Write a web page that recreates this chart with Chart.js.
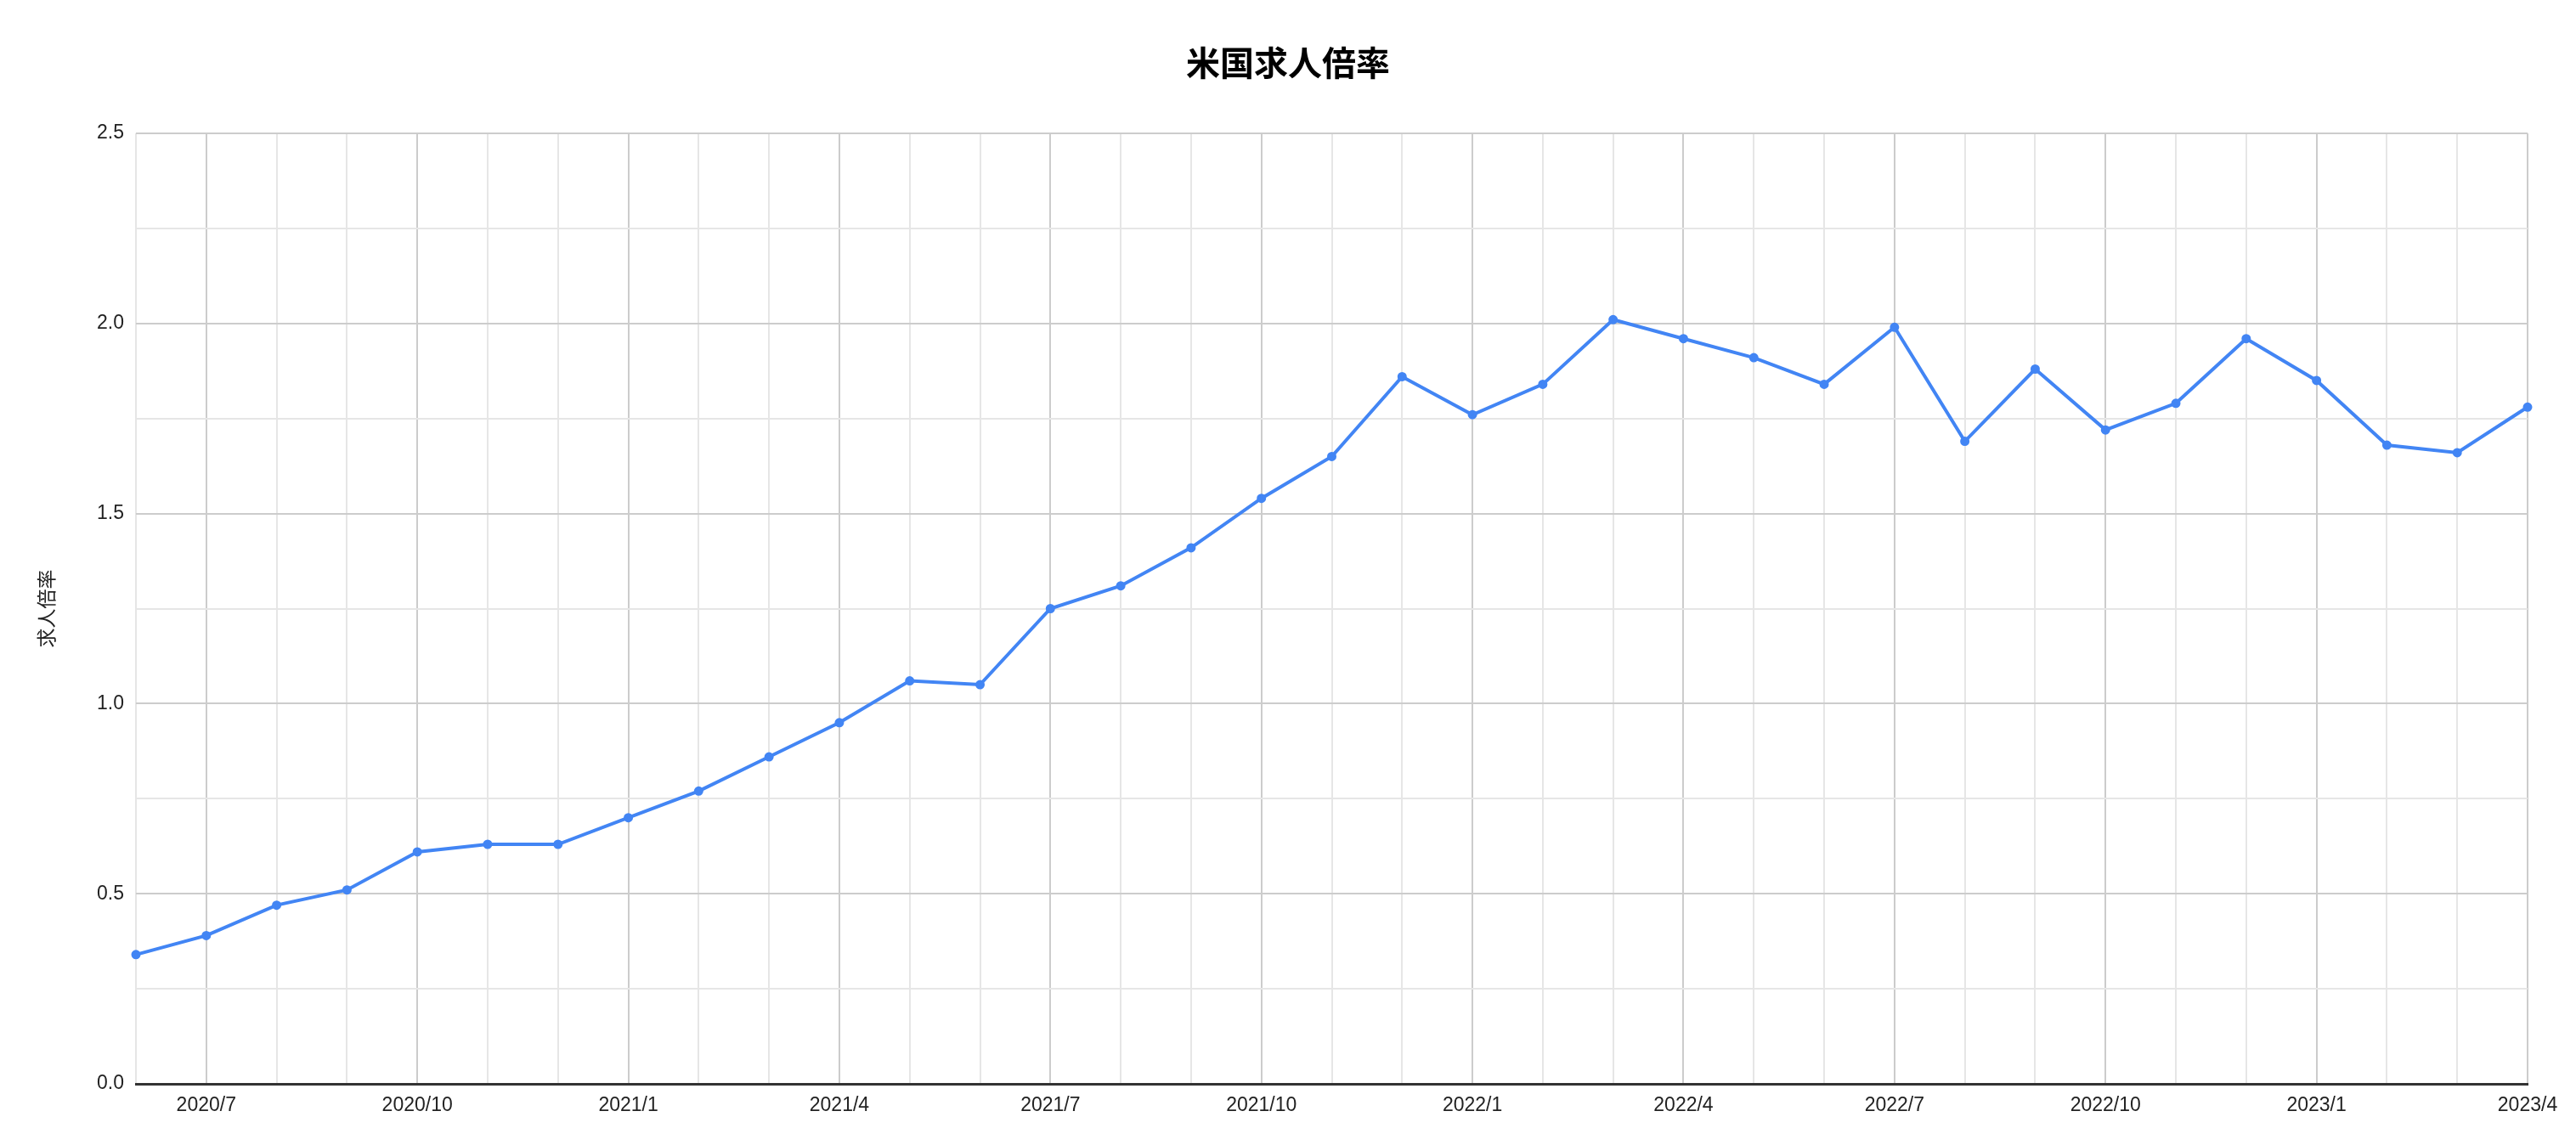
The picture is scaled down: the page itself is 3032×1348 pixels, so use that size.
<!DOCTYPE html>
<html>
<head>
<meta charset="utf-8">
<style>
  html, body { margin: 0; padding: 0; background: #fff; }
  #wrap { width: 3032px; height: 1348px; }
</style>
</head>
<body>
<div id="wrap"><canvas id="jobsChart"></canvas></div>

<script src="https://cdn.jsdelivr.net/npm/chart.js"></script>
<script>
  // 月 (2020/6 - 2023/4)
  const months = [
    '2020/6', '2020/7', '2020/8', '2020/9', '2020/10', '2020/11', '2020/12',
    '2021/1', '2021/2', '2021/3', '2021/4', '2021/5', '2021/6', '2021/7', '2021/8', '2021/9', '2021/10', '2021/11', '2021/12',
    '2022/1', '2022/2', '2022/3', '2022/4', '2022/5', '2022/6', '2022/7', '2022/8', '2022/9', '2022/10', '2022/11', '2022/12',
    '2023/1', '2023/2', '2023/3', '2023/4'
  ];

  // 求人倍率
  const ratio = [
    0.34, 0.39, 0.47, 0.51, 0.61, 0.63, 0.63,
    0.70, 0.77, 0.86, 0.95, 1.06, 1.05, 1.25, 1.31, 1.41, 1.54, 1.65, 1.86,
    1.76, 1.84, 2.01, 1.96, 1.91, 1.84, 1.99, 1.69, 1.88, 1.72, 1.79, 1.96,
    1.85, 1.68, 1.66, 1.78
  ];

  // x軸に表示するラベル
  const shownLabels = ['2020/7', '2020/10', '2021/1', '2021/4', '2021/7', '2021/10', '2022/1', '2022/4', '2022/7', '2022/10', '2023/1', '2023/4'];

  const tickFont = { family: '"Liberation Sans", Arial, sans-serif', size: 23 };

  const ctx = document.getElementById('jobsChart').getContext('2d');
  new Chart(ctx, {
    type: 'line',
    data: {
      labels: months,
      datasets: [{
        label: '求人倍率',
        data: ratio,
        borderColor: '#4285f4',
        backgroundColor: '#4285f4',
        borderWidth: 4,
        pointRadius: 3.5,
        pointHoverRadius: 5,
        tension: 0,
        fill: false
      }]
    },
    options: {
      responsive: true,
      maintainAspectRatio: false,
      animation: false,
      // same padding on both sides so the title sits in the middle of the page
      layout: { padding: { left: 57, right: 57, top: 0, bottom: 0 } },
      plugins: {
        legend: { display: false },
        title: {
          display: true,
          text: '米国求人倍率',
          color: '#000',
          font: { family: '"Noto Sans CJK JP", "Liberation Sans", sans-serif', size: 40, weight: 'bold' },
          padding: { top: 50, bottom: 59 }
        },
        tooltip: { enabled: true }
      },
      scales: {
        x: {
          afterFit: s => { s.height = 72; },
          grid: {
            color: c => (c.index % 3 === 1 ? '#cccccc' : '#e6e6e6'),
            lineWidth: 2,
            drawTicks: false
          },
          border: { display: true, color: '#333333', width: 3 },
          ticks: {
            autoSkip: false,
            maxRotation: 0,
            padding: 12,
            color: '#222',
            font: tickFont,
            callback: function (v, i) {
              const lab = months[i];
              return shownLabels.includes(lab) ? lab : '';
            }
          }
        },
        y: {
          min: 0,
          max: 2.5,
          afterFit: s => { s.width = 103; },
          grid: {
            color: c => (Math.round(c.tick.value * 100) % 50 === 0 ? '#cccccc' : '#e6e6e6'),
            lineWidth: 2,
            drawTicks: false
          },
          border: { display: false },
          ticks: {
            stepSize: 0.25,
            padding: 14,
            color: '#222',
            font: tickFont,
            callback: v => (Math.round(v * 100) % 50 === 0 ? v.toFixed(1) : '')
          },
          title: {
            display: true,
            text: '求人倍率',
            color: '#222',
            font: { family: '"Noto Sans CJK JP", sans-serif', size: 23 },
            padding: { top: -17, bottom: 0 }
          }
        }
      }
    }
  });
</script>
</body>
</html>
